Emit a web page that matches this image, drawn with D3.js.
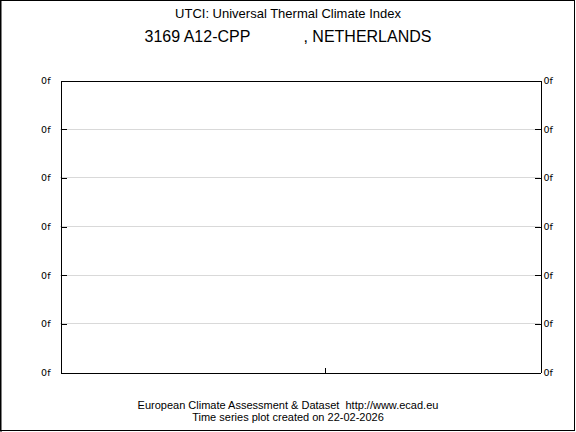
<!DOCTYPE html>
<html><head><meta charset="utf-8">
<script src="https://cdn.jsdelivr.net/npm/d3@7"></script>
<style>body{margin:0;background:#fff}svg{display:block}</style>
</head><body>
<script>
const titleLine1 = "UTCI: Universal Thermal Climate Index";
const titleLine2 = "3169 A12-CPP            , NETHERLANDS";
const footer1 = "European Climate Assessment & Dataset  http://www.ecad.eu";
const footer2 = "Time series plot created on 22-02-2026";
const yTicks = [0, 1, 2, 3, 4, 5, 6];
const yTickLabels = ["0f", "0f", "0f", "0f", "0f", "0f", "0f"];
const xDomain = [0, 20];
const xTicks = [11];
const xTickLabels = [""];

const W = 576, H = 432;
const m = {left: 60, right: 36, top: 80, bottom: 60};
const svg = d3.select("body").append("svg").attr("width", W).attr("height", H);
svg.append("rect").attr("x", 0.5).attr("y", 0.5).attr("width", W - 2).attr("height", H - 2)
  .attr("fill", "#fff").attr("stroke", "#000").attr("stroke-width", 1);
svg.append("line").attr("x1", 1).attr("x2", 1).attr("y1", 0).attr("y2", H).attr("stroke", "#000");

const x = d3.scaleLinear().domain(xDomain).range([m.left, W - m.right]);
const y = d3.scaleLinear().domain([0, 6]).range([H - m.bottom, m.top]);

// gridlines
svg.append("g").selectAll("line").data(yTicks.slice(1, -1)).join("line")
  .attr("x1", x(xDomain[0])).attr("x2", x(xDomain[1])).attr("y1", d => Math.round(y(d)) + 0.5).attr("y2", d => Math.round(y(d)) + 0.5)
  .attr("stroke", "#d9d9d9").attr("stroke-width", 1);

const fmt = (d, i) => yTickLabels[i];
const axL = svg.append("g").attr("transform", `translate(${m.left + 0.5},0.5)`)
  .call(d3.axisLeft(y).tickValues(yTicks).tickFormat(fmt).tickSizeInner(-6).tickSizeOuter(0).tickPadding(10));
const axR = svg.append("g").attr("transform", `translate(${W - m.right + 0.5},0.5)`)
  .call(d3.axisRight(y).tickValues(yTicks).tickFormat(fmt).tickSizeInner(-6).tickSizeOuter(0).tickPadding(3));
const axB = svg.append("g").attr("transform", `translate(0.5,${H - m.bottom + 0.5})`)
  .call(d3.axisBottom(x).tickValues(xTicks).tickFormat((d, i) => xTickLabels[i]).tickSizeInner(-5).tickSizeOuter(0));
const axT = svg.append("g").attr("transform", `translate(0.5,${m.top + 0.5})`)
  .call(d3.axisTop(x).tickValues([]).tickSizeOuter(0));
[axL, axR, axB, axT].forEach(a => {
  a.selectAll("path,line").attr("stroke", "#000").attr("stroke-width", 1).attr("shape-rendering", "crispEdges");
  a.selectAll("text").attr("font-family", "DejaVu Sans, sans-serif").attr("font-size", 9.5).attr("fill", "#000");
});

svg.append("text").attr("x", 288).attr("y", 18).attr("text-anchor", "middle")
  .attr("font-family", "Liberation Sans, Arial").attr("font-size", 13).text(titleLine1);
svg.append("text").attr("x", 288).attr("y", 42).attr("text-anchor", "middle")
  .attr("font-family", "Liberation Sans, Arial").attr("font-size", 16).style("white-space", "pre").text(titleLine2);
svg.append("text").attr("x", 288).attr("y", 409).attr("text-anchor", "middle")
  .attr("font-family", "Liberation Sans, Arial").attr("font-size", 11).style("white-space", "pre").text(footer1);
svg.append("text").attr("x", 288).attr("y", 421).attr("text-anchor", "middle")
  .attr("font-family", "Liberation Sans, Arial").attr("font-size", 11).text(footer2);
</script>
</body></html>
